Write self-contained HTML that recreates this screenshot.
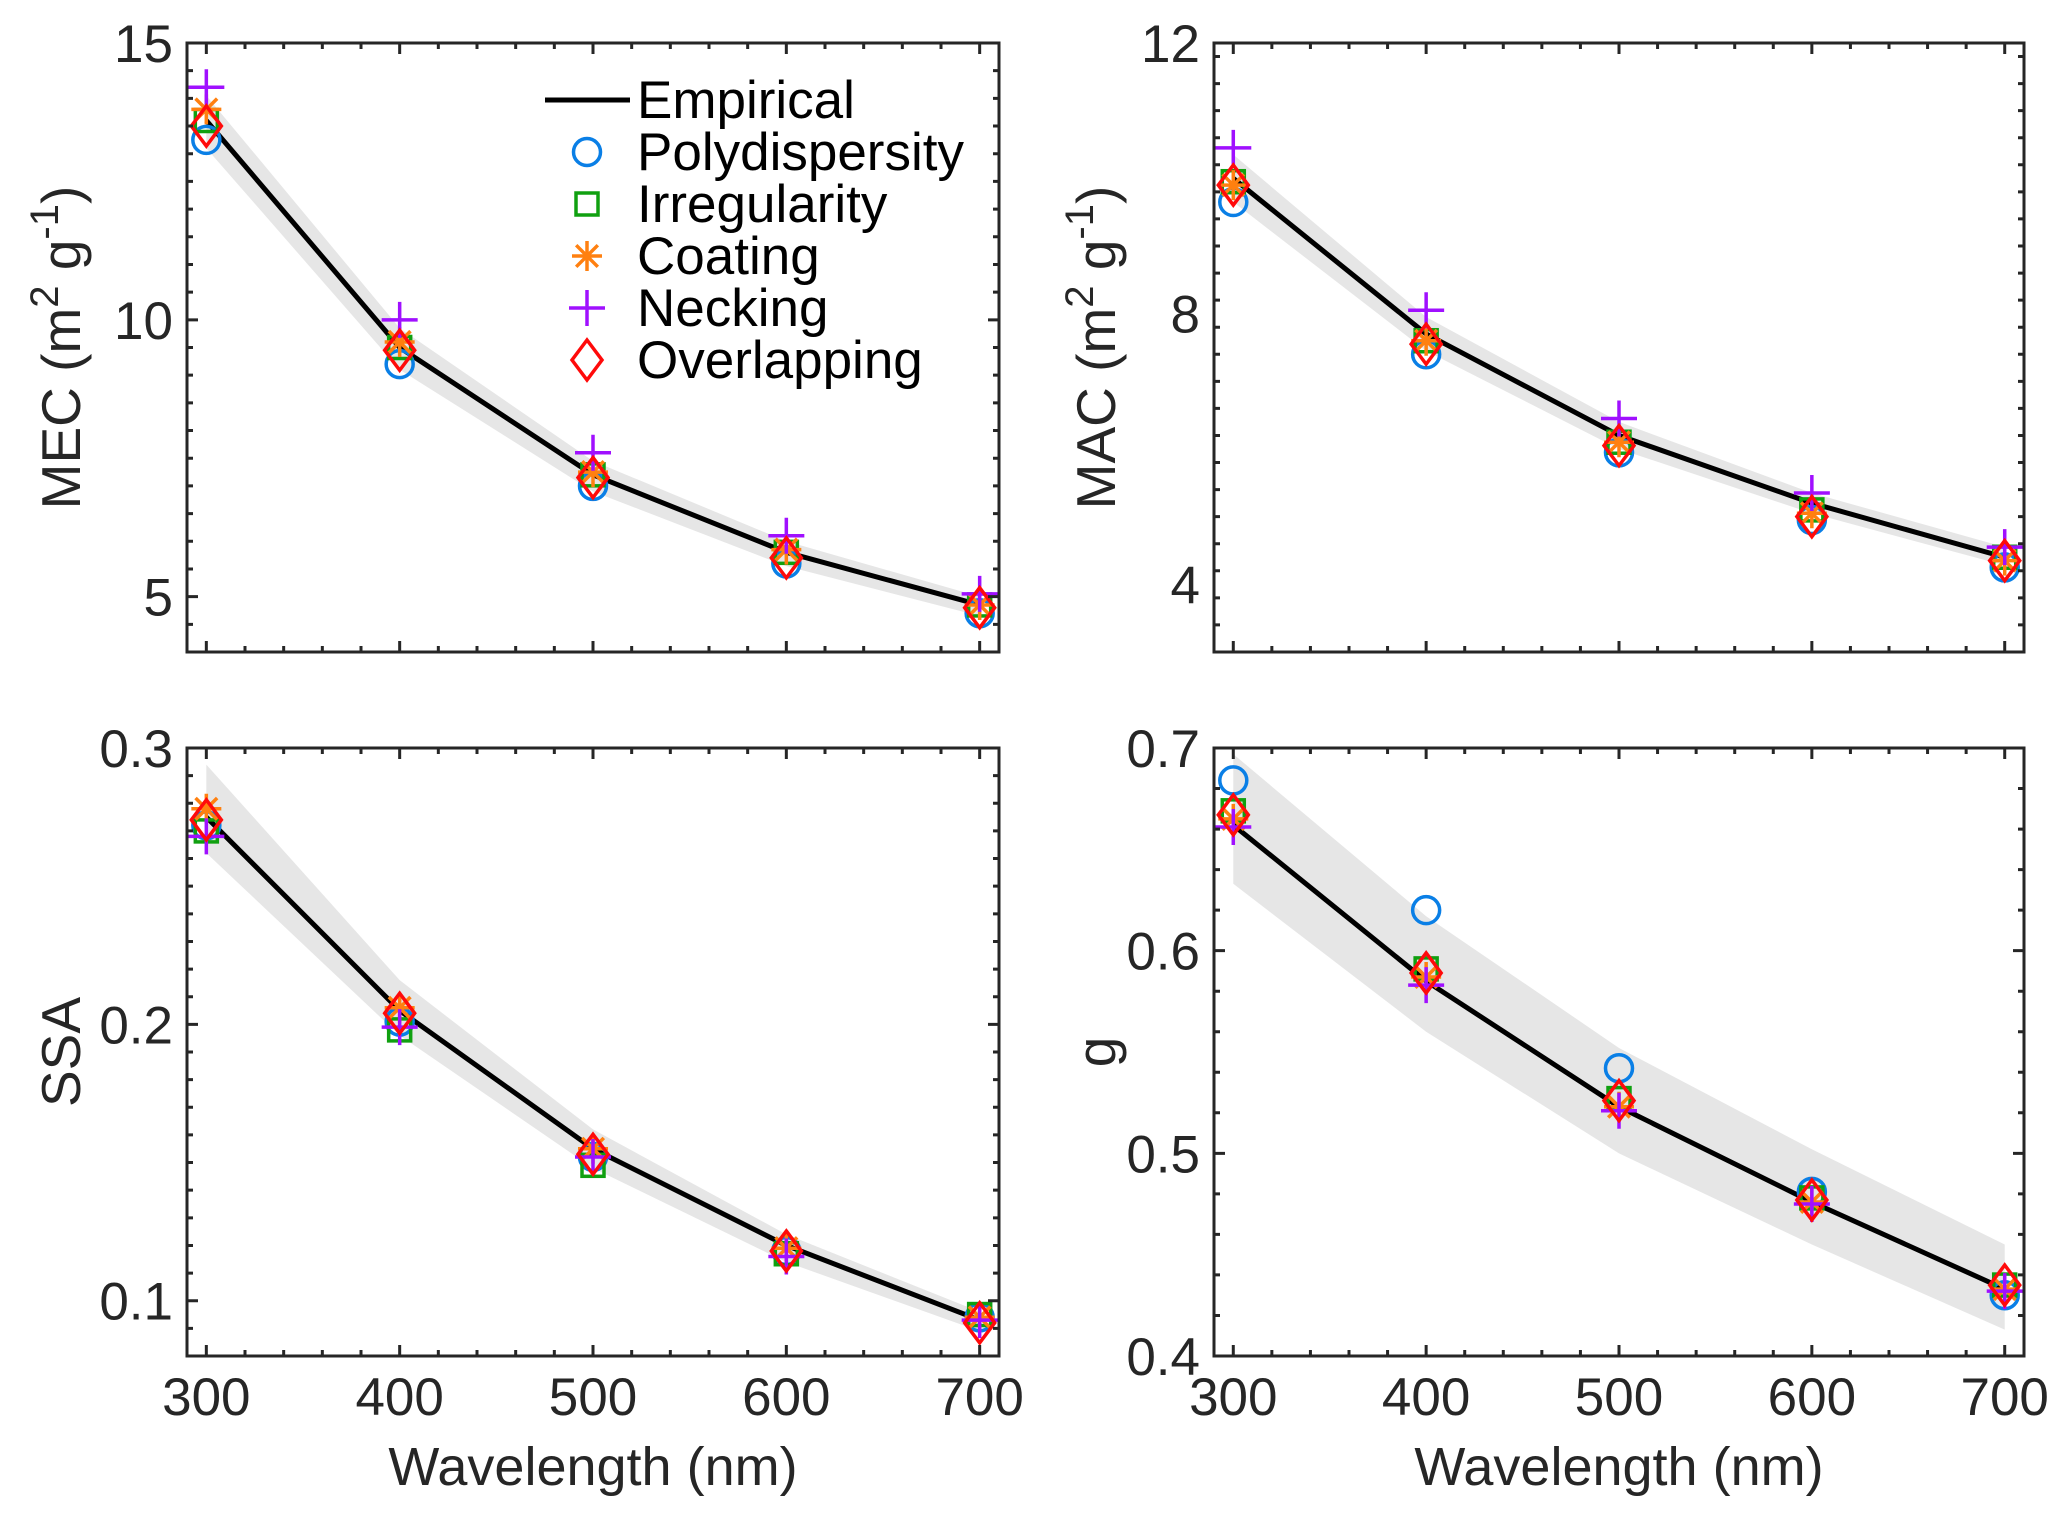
<!DOCTYPE html>
<html><head><meta charset="utf-8">
<style>
html,body{margin:0;padding:0;background:#fff;}
svg{display:block;font-family:"Liberation Sans",Arial,sans-serif;}
</style></head>
<body>
<svg id="fig" width="2067" height="1515" viewBox="0 0 2067 1515" xmlns="http://www.w3.org/2000/svg"></svg>
<script>
const wavelengths = [300, 400, 500, 600, 700];
const xTicks = [300, 400, 500, 600, 700];
const seriesNames = ["Polydispersity", "Irregularity", "Coating", "Necking", "Overlapping"];

// MEC
const mecEmp = [13.6, 9.5, 7.2, 5.8, 4.85];
const mecUpper = [14.05, 9.85, 7.45, 6.0, 5.0];
const mecLower = [13.1, 9.1, 6.9, 5.55, 4.65];
const mecPoly = [13.25, 9.2, 7.0, 5.6, 4.7];
const mecIrreg = [13.6, 9.5, 7.2, 5.8, 4.85];
const mecCoat = [13.8, 9.6, 7.25, 5.85, 4.85];
const mecNeck = [14.2, 10.0, 7.6, 6.1, 5.05];
const mecOver = [13.5, 9.45, 7.15, 5.7, 4.8];
const mecTicks = [5, 10, 15];

// MAC
const macEmp = [10.0, 7.7, 6.2, 5.2, 4.4];
const macUpper = [10.35, 7.95, 6.4, 5.35, 4.55];
const macLower = [9.65, 7.45, 6.0, 5.05, 4.28];
const macPoly = [9.65, 7.4, 5.95, 4.95, 4.25];
const macIrreg = [9.95, 7.6, 6.1, 5.1, 4.4];
const macCoat = [9.9, 7.6, 6.1, 5.05, 4.35];
const macNeck = [10.45, 8.05, 6.45, 5.35, 4.55];
const macOver = [9.9, 7.55, 6.05, 5.0, 4.35];
const macTicks = [4, 8, 12];

// SSA
const ssaEmp = [0.275, 0.205, 0.155, 0.12, 0.093];
const ssaUpper = [0.294, 0.216, 0.162, 0.124, 0.096];
const ssaLower = [0.262, 0.196, 0.148, 0.114, 0.089];
const ssaPoly = [0.272, 0.201, 0.152, 0.118, 0.094];
const ssaIrreg = [0.270, 0.198, 0.149, 0.117, 0.095];
const ssaCoat = [0.278, 0.206, 0.155, 0.119, 0.094];
const ssaNeck = [0.268, 0.199, 0.152, 0.116, 0.093];
const ssaOver = [0.274, 0.204, 0.153, 0.118, 0.092];
const ssaTicks = [0.1, 0.2, 0.3];

// g
const gEmp = [0.662, 0.585, 0.523, 0.476, 0.433];
const gUpper = [0.697, 0.617, 0.552, 0.502, 0.455];
const gLower = [0.633, 0.560, 0.500, 0.455, 0.413];
const gPoly = [0.684, 0.620, 0.542, 0.481, 0.430];
const gIrreg = [0.669, 0.591, 0.527, 0.478, 0.435];
const gCoat = [0.665, 0.587, 0.523, 0.476, 0.433];
const gNeck = [0.661, 0.583, 0.521, 0.475, 0.432];
const gOver = [0.667, 0.589, 0.526, 0.477, 0.435];
const gTicks = [0.4, 0.5, 0.6, 0.7];

const NS = "http://www.w3.org/2000/svg";
const svg = document.getElementById("fig");
const AX = "#262626";
const COLORS = {poly:"#0a7fe6", irreg:"#10a010", coat:"#ff8010", neck:"#a010ff", over:"#ff0a0a"};

function mk(tag, attrs, parent) {
  const e = document.createElementNS(NS, tag);
  for (const k in attrs) e.setAttribute(k, attrs[k]);
  (parent || svg).appendChild(e);
  return e;
}

function marker(kind, cx, cy, g) {
  let e;
  if (kind === "poly") {
    e = mk("circle", {cx: cx, cy: cy, r: 13.5, fill: "none", stroke: COLORS.poly, "stroke-width": 3.5}, g);
  } else if (kind === "irreg") {
    e = mk("rect", {x: cx - 11, y: cy - 11, width: 22, height: 22, fill: "none", stroke: COLORS.irreg, "stroke-width": 3.5}, g);
  } else if (kind === "coat") {
    const s = 15;
    e = mk("path", {d: `M${cx-s},${cy}H${cx+s}M${cx},${cy-s}V${cy+s}M${cx-s*0.72},${cy-s*0.72}L${cx+s*0.72},${cy+s*0.72}M${cx-s*0.72},${cy+s*0.72}L${cx+s*0.72},${cy-s*0.72}`, fill: "none", stroke: COLORS.coat, "stroke-width": 3.5}, g);
  } else if (kind === "neck") {
    const s = 18;
    e = mk("path", {d: `M${cx-s},${cy}H${cx+s}M${cx},${cy-s}V${cy+s}`, fill: "none", stroke: COLORS.neck, "stroke-width": 3.5}, g);
  } else {
    e = mk("path", {d: `M${cx},${cy-20}L${cx+15},${cy}L${cx},${cy+20}L${cx-15},${cy}Z`, fill: "none", stroke: COLORS.over, "stroke-width": 3.5}, g);
  }
  return e;
}

function panel(cfg) {
  const {name, L, T, R, B, ymin, ymax, yMinor, yTicks, yFmt, emp, upper, lower, series, ylabel, ylabelX, showX} = cfg;
  const g = mk("g", {});
  
  
  const xs = v => L + (v - 290) / 420 * (R - L);
  const ys = v => B - (v - ymin) / (ymax - ymin) * (B - T);

  let d = "";
  wavelengths.forEach((w, i) => { d += (i ? "L" : "M") + xs(w) + "," + ys(upper[i]); });
  for (let i = wavelengths.length - 1; i >= 0; i--) d += "L" + xs(wavelengths[i]) + "," + ys(lower[i]);
  const band = mk("path", {d: d + "Z", fill: "#e6e6e6", stroke: "none"}, g);
  
  

  const pts = wavelengths.map((w, i) => xs(w) + "," + ys(emp[i])).join(" ");
  const line = mk("polyline", {points: pts, fill: "none", stroke: "#000", "stroke-width": 5, "stroke-linejoin": "round"}, g);
  
  

  const kinds = ["poly", "irreg", "coat", "neck", "over"];
  kinds.forEach((k, si) => {
    const sg = mk("g", {}, g);
    
    
    wavelengths.forEach((w, i) => {
      const m = marker(k, xs(w), ys(series[si][i]), sg);
      
      
    });
  });

  const box = mk("rect", {x: L, y: T, width: R - L, height: B - T, fill: "none", stroke: AX, "stroke-width": 3}, g);
  
  

  let td = "";
  for (let w = 300; w <= 700; w += 20) {
    const x = xs(w), len = (w % 100 === 0) ? 11 : 6;
    td += `M${x},${B}V${B-len}M${x},${T}V${T+len}`;
  }
  for (let v = ymin; v <= ymax + 1e-9; v += yMinor) {
    const y = ys(v);
    const isMajor = yTicks.some(t => Math.abs(t - v) < 1e-6);
    const len = isMajor ? 11 : 6;
    td += `M${L},${y}H${L+len}M${R},${y}H${R-len}`;
  }
  const ticks = mk("path", {d: td, stroke: AX, "stroke-width": 3, fill: "none"}, g);
  
  

  yTicks.forEach(t => {
    const tx = mk("text", {x: L - 14, y: ys(t) + 19, "text-anchor": "end", "font-size": 53, fill: AX}, g);
    tx.textContent = yFmt(t);
    
    
  });
  if (showX) {
    xTicks.forEach(t => {
      const tx = mk("text", {x: xs(t), y: B + 59, "text-anchor": "middle", "font-size": 53, fill: AX}, g);
      tx.textContent = t;
      
      
    });
    const xl = mk("text", {x: (L + R) / 2, y: B + 129, "text-anchor": "middle", "font-size": 54, fill: AX}, g);
    xl.textContent = "Wavelength (nm)";
    
    
  }
  const yl = mk("text", {x: 0, y: 0, "text-anchor": "middle", "font-size": 55, fill: AX,
    transform: `translate(${ylabelX},${(T + B) / 2}) rotate(-90)`}, g);
  
  
  if (ylabel.indexOf("(") >= 0) {
    const base = ylabel.split(" ")[0];
    yl.innerHTML = `${base} (m<tspan dy="-22" font-size="40">2</tspan><tspan dy="22"> g</tspan><tspan dy="-22" font-size="40">-1</tspan><tspan dy="22">)</tspan>`;
  } else {
    yl.textContent = ylabel;
  }
  return g;
}

const f0 = v => String(v);
const f1 = v => v.toFixed(1);

panel({name: "mec", L: 187, T: 43, R: 999, B: 652, ymin: 4, ymax: 15, yMinor: 0.5, yTicks: mecTicks, yFmt: f0,
  emp: mecEmp, upper: mecUpper, lower: mecLower, series: [mecPoly, mecIrreg, mecCoat, mecNeck, mecOver],
  ylabel: "MEC (m2 g-1)", ylabelX: 80, showX: false});
panel({name: "mac", L: 1214, T: 43, R: 2024, B: 652, ymin: 3, ymax: 12, yMinor: 0.4, yTicks: macTicks, yFmt: f0,
  emp: macEmp, upper: macUpper, lower: macLower, series: [macPoly, macIrreg, macCoat, macNeck, macOver],
  ylabel: "MAC (m2 g-1)", ylabelX: 1115, showX: false});
panel({name: "ssa", L: 187, T: 748, R: 999, B: 1356, ymin: 0.08, ymax: 0.3, yMinor: 0.01, yTicks: ssaTicks, yFmt: f1,
  emp: ssaEmp, upper: ssaUpper, lower: ssaLower, series: [ssaPoly, ssaIrreg, ssaCoat, ssaNeck, ssaOver],
  ylabel: "SSA", ylabelX: 80, showX: true});
panel({name: "g", L: 1214, T: 748, R: 2024, B: 1356, ymin: 0.4, ymax: 0.7, yMinor: 0.02, yTicks: gTicks, yFmt: f1,
  emp: gEmp, upper: gUpper, lower: gLower, series: [gPoly, gIrreg, gCoat, gNeck, gOver],
  ylabel: "g", ylabelX: 1115, showX: true});

const lg = mk("g", {});


const legLabels = ["Empirical", "Polydispersity", "Irregularity", "Coating", "Necking", "Overlapping"];
const legKinds = [null, "poly", "irreg", "coat", "neck", "over"];
legLabels.forEach((lab, i) => {
  const base = 118 + i * 52;
  const cy = base - 18;
  const eg = mk("g", {}, lg);
  
  
  if (i === 0) {
    mk("line", {x1: 545, x2: 630, y1: cy, y2: cy, stroke: "#000", "stroke-width": 5}, eg);
  } else {
    marker(legKinds[i], 587, cy, eg);
  }
  const t = mk("text", {x: 637, y: base, "font-size": 53, fill: "#000"}, eg);
  t.textContent = lab;
});
</script>
</body></html>
